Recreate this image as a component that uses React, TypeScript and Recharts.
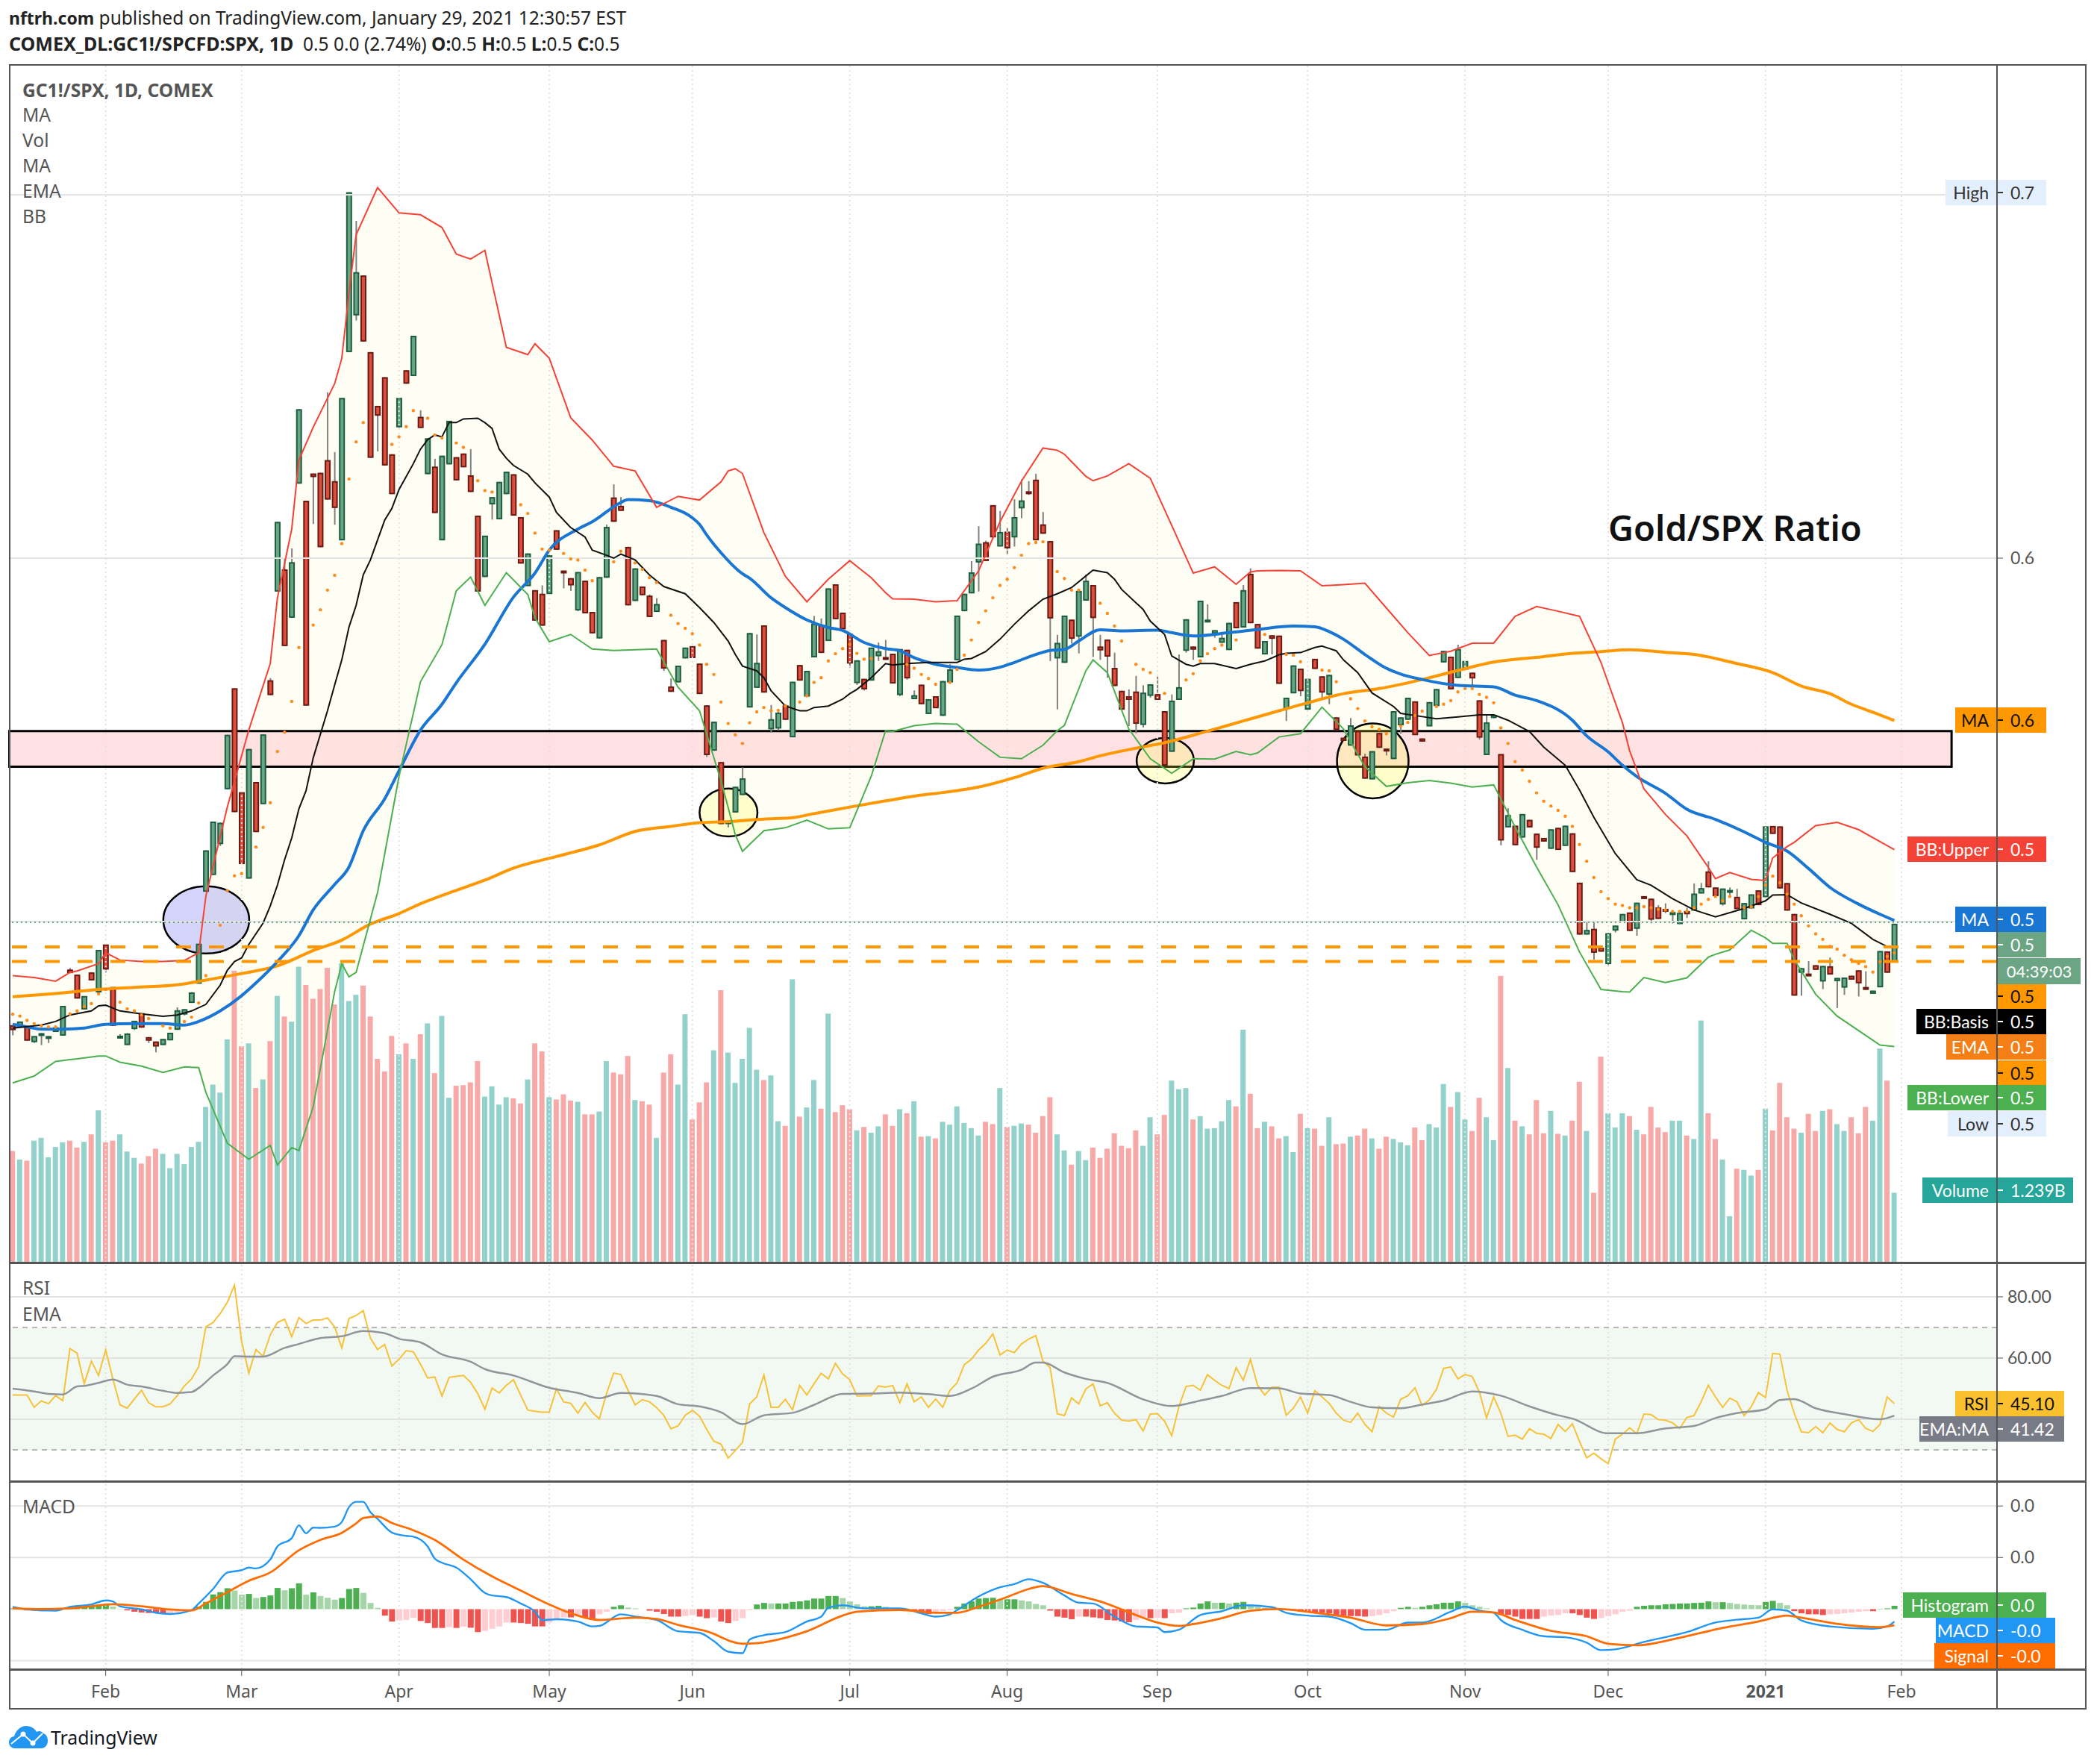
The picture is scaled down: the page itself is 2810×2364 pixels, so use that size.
import React from 'react';
import { ComposedChart, Bar, Line, Area, XAxis, YAxis, ReferenceLine, ReferenceArea } from 'recharts';

// ---- price series, in thousandths of the ratio ----
const candleOpen = [
471.3,471,471,467,468.9,468.1,469.8,468.8,486.6,485.2,
476,485.8,480.7,493.5,481.8,468,466.2,470.6,474.6,468,
466.8,466.2,467.5,470.4,474.6,477.8,483.1,508.4,513,521.5,
536.6,564,535.4,512,538.2,532.5,566.2,591,596.7,583.8,
620.7,615.6,623.1,623.3,626.8,621,605.1,656.9,667,677.6,
656.5,641.7,649.6,628.4,636.2,651.5,650.3,638.7,623.3,625,
605.1,626,627.6,628.6,622.6,611.5,595,615,610.9,617.8,
622.9,611.1,592.5,591,590,590.3,607.5,596.4,594.3,585.8,
593.6,585,578.1,594.8,616.5,614.2,602.9,588.4,592,589.5,
585.4,577.3,564.5,566,572.6,575.6,570.8,559.3,547.2,543.7,
527,530.2,535,559.1,564.5,581.3,553.1,553.3,559.3,550.9,
570.4,562.1,572.9,581.5,577.4,592.6,584.8,579,565.8,566.6,
566.5,573.2,572.6,573.5,562.5,574.6,561.4,565,557.3,561.8,
556.8,566,572.1,585.6,590.5,599,604.2,614.4,603.4,607.1,
605.9,613.9,618.2,621.4,609.1,604.5,572.6,571.4,582.9,578.6,
588.5,592.4,575.5,577.4,569.6,563.3,561.8,563.1,554.3,562.3,
562.4,557.7,546.9,561.2,574.7,575.5,572.9,582.6,579.4,576.9,
574.9,587.7,581.1,595.5,581.7,573.7,578.6,578.5,558.7,563,
569.4,558.5,572.1,567.3,562.6,556,550.4,548.6,552.3,545.2,
539.3,551.7,547.4,544.9,554.2,555.7,560.4,550.2,553.9,559.5,
571.5,572.7,567.2,569.5,568.3,560.7,546,556.2,545.9,526.1,
526.2,523.3,527.8,524,522.8,520.2,525.6,521,524.1,510.5,
496.6,497.8,492.6,488.5,497.7,500,502.3,498.2,506.8,506.1,
503.7,503.3,502.1,499.5,502.7,503.2,507.9,513.6,509.2,504.9,
508.2,506.6,500.8,503.8,508.4,506.9,526.1,526,510.4,501.9,
486.1,485.5,487.8,483.7,487.5,483.8,482,484.9,486.4,481.8,
480.3,482.1,491.6,489.1];
const candleClose = [
470.3,472.3,467.4,468.3,469.1,468.3,470.7,476.6,486,479,
479.3,484,492,487,471.5,468.4,469,472.5,471,467.4,
465.8,467.5,469.2,475.4,475.7,480.3,493.7,519.4,527.3,527,
551.2,530.3,516,547.3,524.8,551.3,562.5,609.8,576,598.7,
640.8,559.6,622.5,603.2,616.3,614,643.9,700.5,678.5,659.8,
627.8,639.4,625.7,617.8,643.9,648.2,661,636,632.8,612.6,
628,637.6,621.6,625.2,618.4,591,606,616.6,620.8,623.6,
611.9,598.7,601.1,583,581.6,600.6,602.5,596,592.7,596,
585,579.5,594.6,608.4,610.2,613.2,587.2,597,590,584,
587.2,569.8,563.4,570.2,575.2,572.7,562.8,546,554.8,527,
527.5,536.9,539.2,579.2,571,563.2,555.5,557.3,555.7,565.8,
566.5,568.8,581.8,574.1,591.5,583.4,580.6,571.2,571.7,564.1,
575.2,574.2,572.2,565.7,574.8,567.1,562.1,560,561,558.9,
566,569.2,584,590,595.9,603.8,599.4,605.9,607,602.9,
611.1,615.7,617.8,605.1,606.9,583.6,576.5,584,578,590.8,
593.6,583.7,574.8,573.1,565,558.5,561.2,554.6,562.8,565.1,
561.2,543.1,560.6,564.3,583,575,588.1,582.9,580,577.9,
582,580.9,591,582.3,575.3,577,578,565.6,561.4,570.3,
563.6,566.6,569.7,563.2,567.7,552.9,549.9,553.8,545.9,539.5,
546.7,548,547,557.7,556,561.4,551.5,549.7,560.2,563.8,
574.3,564.1,574.8,571.5,567.1,550.8,554.6,556.7,522.5,529.1,
521.2,529.4,526.1,520.5,522.2,525.2,519.9,526.2,513.8,496.6,
497.5,491.6,491.9,496.6,498.7,501.9,497.6,505,506.4,500.7,
500.9,502.9,502.4,502.2,502.2,507.5,509,509.6,507.2,508.9,
508.5,503.6,504.9,507.3,504.7,526,524.3,509.3,503.2,479.8,
487,485.2,486.9,487.6,485.6,484.3,484.4,484.2,483.2,481.4,
480.8,491.7,486.1,499.2];
const candleHigh = [
471.5,472.5,471.2,468.5,469.3,468.5,471,476.8,487.2,485.4,
479.5,486,492.2,493.7,482,469,469.3,472.7,474.8,468.2,
467,467.7,469.4,476.4,475.9,480.6,493.9,519.6,527.5,527.2,
551.4,564.2,535.6,547.5,538.4,551.5,567,610,600,602.7,
641,615.8,623.3,623.5,645.6,629.2,644.1,700.7,692.8,677.8,
656.7,641.9,649.8,628.6,644.1,651.7,661.2,640.7,633,627.3,
628.2,637.8,627.8,628.8,630,611.7,606.2,616.8,621,623.8,
623.1,611.3,601.3,591.2,592.5,600.8,607.7,596.6,594.5,596.2,
593.8,585.2,594.8,609.2,620.3,616.8,603.1,597.2,592.2,590,
589,577.5,566.9,570.4,575.4,575.8,571,559.5,555,543.9,
527.7,537.1,542.4,579.4,579,581.5,559.6,558.4,559.8,566,
570.6,569,584.1,583.4,591.7,592.8,585,579.2,571.9,566.8,
575.4,576.8,577.5,573.7,575,574.8,563.6,565.2,561.2,562,
566.2,570.8,584.2,590.2,599.2,608.8,604.8,614.6,613,608.4,
616.2,621.7,621.2,623.2,612.7,604.7,578.9,584.2,583.1,591.4,
595.5,592.6,578.9,577.6,574,563.5,563.9,567.6,565,565.3,
567.4,557.9,562.5,573.5,583.2,575.7,588.3,587.3,580.2,579,
582.2,587.9,592.6,597.2,581.9,577.2,578.8,578.7,561.6,570.5,
569.6,566.8,572.3,567.5,567.9,556.2,550.6,556,552.5,546.2,
546.9,551.9,547.6,557.9,556.2,561.6,560.6,550.4,560.4,564,
574.5,572.9,576.2,571.7,568.5,560.9,556.7,557,546.1,531.2,
526.4,529.6,528,524.2,523,525.4,525.8,526.4,524.3,510.7,
500,500,492.8,496.8,498.9,502.1,502.5,505.2,507,506.3,
504.5,505,502.6,502.4,503.8,510.5,510.6,516.6,509.4,509.1,
509.4,509,505.1,507.5,508.6,526.2,526.3,526.2,510.6,502.1,
487.2,489.1,488,487.8,490.1,484.5,484.6,485.1,486.6,486.3,
481,491.9,491.8,499.4];
const candleLow = [
468.7,470.8,467.2,466.6,466,466.6,469.6,468.6,485.9,478.8,
475.8,483.8,480.5,486,471.3,467.8,466,470.2,470.8,466.6,
464,466,467.3,470.2,474.2,477.6,482.9,508.2,512.8,520.8,
536.4,530.1,515.8,511.8,524.6,532.3,562.3,590.8,575.8,583.6,
620.5,559.4,609.4,603,616.1,609.2,604.9,656.7,665.4,659.6,
627.6,629.4,625.5,617.6,636,648,650.1,635.8,623.1,612.4,
604.9,625.8,621.4,625,618.2,590.8,594.8,610.6,610.7,617.6,
611.7,598.5,592.3,582.8,581.4,590.1,602.3,591.7,591,585.4,
584.8,579.3,577.9,594.6,610,613,587,588.2,589.8,583.8,
585.2,569,563.2,565.8,572.4,572.5,562.6,545.3,547,526.8,
525.9,530,534.8,558.9,564.3,563,552,552.6,555.5,550.7,
566.3,561.9,572.7,573.9,577.2,583.2,580.4,569.9,565.1,563.6,
566.3,571.7,572,565.5,562,566.6,561.2,559.8,557.1,558.7,
556.6,565.6,571.9,585.4,590.3,590.8,599.2,605.7,603.2,601.2,
603.2,611,617.4,604.9,606.7,571.7,558.4,571.2,576.5,573.8,
588.3,572.8,572,567.1,564.8,558.3,553.8,551.8,553.4,561.6,
561,542.9,546.7,561,574,572,572.7,582.4,578.1,576.7,
574.7,580.7,580.9,582.1,575.1,573.5,573.5,565.4,555.2,562.8,
562,558.3,569.5,561.4,559.8,552.7,549.7,548.4,545.7,539.3,
539.1,547.8,545.7,544.7,551.7,555.5,551.3,549.5,553.7,559.3,
571.3,563.9,567,569.3,564.1,550.1,545.8,555.9,521,525.9,
521,523.1,525.9,517,522,520,519.7,520.8,513.6,496.4,
496.4,489.5,491.7,488,497,499.8,497.4,496.1,506.2,499.5,
500.7,502.3,499.5,499.3,501,503,507.7,509.4,507,504.4,
506.9,503.4,500.6,503.6,504.5,506.7,524.1,509.1,503,479.6,
479.6,485,486.7,481.4,485.4,476.2,479.8,484,479.4,481.2,
480.1,481.9,485.9,488.9];

// volume, in billions
const volume = [
1.95,1.8,1.78,2.13,2.18,1.84,2.02,2.1,2.13,2.01,
2.11,2.24,2.66,2.1,2.13,2.24,1.94,1.83,1.73,1.86,
1.99,1.9,1.65,1.9,1.72,2.02,2.11,2.72,3.11,2.97,
3.9,5.1,3.78,3.83,3.05,3.2,3.87,4.66,4.3,4.21,
5.17,4.85,4.61,4.78,5.15,4.51,5.23,4.57,4.68,4.84,
4.3,3.56,3.34,3.96,3.64,3.83,3.56,3.99,4.18,3.31,
4.31,2.88,3.09,3.1,3.15,3.52,2.9,3.08,2.76,2.89,
2.87,2.78,3.2,3.83,3.69,2.89,2.85,2.94,2.83,2.81,
2.59,2.59,2.64,3.52,3.32,3.29,3.61,2.84,2.82,2.76,
2.18,3.32,3.64,3.11,4.34,2.5,2.8,3.15,3.71,4.76,
3.67,3.14,3.56,4.1,3.37,3.19,3.27,2.47,2.39,4.95,
2.55,2.71,3.19,2.69,4.35,2.63,2.75,2.68,2.31,2.37,
2.27,2.38,2.59,2.39,2.68,2.61,2.82,2.2,2.21,2.17,
2.46,2.41,2.73,2.44,2.35,2.22,2.46,2.42,3.05,2.37,
2.39,2.43,2.41,2.27,2.56,2.89,2.24,1.96,1.71,1.95,
1.79,2.01,1.83,1.99,2.26,2.04,2,2.31,2.04,2.54,
2.24,2.58,3.18,3.03,3.05,2.5,2.56,2.34,2.35,2.47,
2.84,2.73,4.07,2.95,2.35,2.46,2.38,2.17,2.21,1.93,
2.6,2.35,2.34,2.04,2.54,2.07,2.08,2.2,2.22,2.34,
2.17,1.99,2.2,2.16,2.1,2.05,2.36,2.14,2.42,2.36,
3.12,2.72,2.98,2.5,2.3,2.88,2.54,2.14,5.01,3.4,
2.48,2.38,2.24,2.84,2.26,2.65,2.25,2.22,2.48,3.16,
2.3,1.22,3.6,2.61,2.36,2.61,2.56,2.32,2.24,2.72,
2.36,2.28,2.48,2.48,2.22,2.16,4.23,2.61,2.16,1.8,
0.81,1.64,1.62,1.52,1.62,2.69,2.31,3.14,2.54,2.34,
2.27,2.6,2.3,2.65,2.68,2.42,2.3,2.54,2.26,2.72,
2.48,3.74,3.18,1.22];

const ma50 = [[0,471.7],[2,471],[4,470.4],[7,470.4],[10,470.7],[13,471.7],[17,471.9],[21,471.9],[24,471.5],[26,472.5],[29,475.4],[32,479.6],[34,483.1],[37,489],[40,496.1],[42,503.2],[45,510.2],[47,515],[49,525],[52,533.8],[54,541.5],[57,552.7],[60,559.8],[62,565.7],[66,576.3],[70,589.3],[73,595.9],[75,602.2],[79,608],[81,610],[85,615.3],[86,616.1],[89,615.8],[92,614],[95,611.1],[96,609.3],[97,606.4],[99,601.5],[102,595.7],[103,594.5],[106,589.1],[108,586.4],[111,583],[114,580.9],[116,580.1],[119,576.8],[122,575.1],[124,574.5],[126,572.6],[129,570.8],[132,569.9],[135,569.2],[138,570],[140,571.3],[143,573.5],[145,574.6],[147,574.9],[149,577.2],[152,580.3],[155,580],[160,580.2],[162,579.5],[165,578.6],[170,579.5],[174,580.4],[179,581.3],[182,581.1],[184,579.8],[186,577.7],[189,573.5],[192,569.7],[194,568.1],[197,566.6],[202,565],[207,564.6],[210,562.3],[213,560.8],[218,555.4],[220,551.1],[223,546.7],[225,543],[227,539.9],[231,535.3],[234,530.9],[238,528.1],[242,524.7],[245,521.8],[248,519.4],[251,514.6],[254,509.4],[258,504.8],[261,502],[263,500.3]];
const ma200 = [[0,479.3],[6,480.2],[12,481.3],[17,481.9],[23,482.6],[27,483.9],[32,485.7],[37,487.8],[42,492],[46,494.9],[50,499.3],[54,502.2],[57,504.9],[61,507.9],[66,511.4],[70,514.7],[76,517.9],[82,521.1],[87,524.8],[92,526.2],[96,527.2],[100,527.5],[105,528.2],[109,528.6],[112,529.7],[117,531.5],[122,533.2],[127,534.8],[130,535.5],[135,537],[140,539.6],[144,542.2],[149,544],[152,545.6],[157,547.7],[161,549.2],[167,552.4],[172,555.2],[177,558],[181,560.2],[186,562.7],[191,564.1],[197,566.6],[202,569.1],[207,571.4],[214,572.9],[218,573.8],[222,574.3],[226,574.8],[231,574.1],[235,573.5],[241,571],[246,568.5],[250,564.8],[254,562.7],[257,559.8],[260,557.6],[263,555.3]];
const bbBasis = [[0,470.7],[4,471.5],[6,472.5],[8,474.3],[11,475.4],[12,476.8],[13,477],[15,475.4],[18,474.6],[21,473.9],[23,474.3],[25,475.4],[27,477.2],[29,482.5],[30,486.6],[31,489],[32,490],[33,493.7],[35,499.6],[36,504.3],[37,510],[38,517],[39,523],[40,531],[41,536],[42,545],[44,558],[45,565.1],[46,572],[47,581],[48,587],[49,595.4],[50,599.5],[52,610.5],[53,613.7],[54,618.9],[56,626],[57,630],[58,632.6],[59,633.9],[60,633.4],[61,637.3],[62,637.3],[63,638.3],[65,638.5],[66,637.3],[67,635.7],[68,630],[69,627.5],[70,625.5],[72,623.1],[73,620.7],[75,616.8],[76,612.6],[78,608.4],[80,605.8],[81,602.2],[83,600.8],[84,600],[85,601.1],[87,599.5],[89,595.4],[91,592.2],[94,590.2],[96,586.4],[98,582.3],[100,577.2],[101,573.5],[102,570.3],[104,569],[105,567.1],[106,563.5],[108,559.3],[110,558],[111,558],[112,558.9],[114,559.3],[116,561.2],[117,562.7],[118,563.9],[120,567.1],[122,571],[123,570.6],[125,571],[128,571.3],[132,571.3],[133,572.2],[134,572.4],[136,574.3],[138,577.7],[140,581.8],[142,585.5],[144,588.7],[146,590.2],[148,591.9],[150,595.1],[151,596.7],[153,596],[154,594.2],[155,591.4],[158,585.9],[159,582.7],[161,579],[162,573.1],[164,570.8],[165,570.3],[166,571],[168,571],[171,569.6],[173,570.8],[175,571.7],[177,573.4],[178,573.8],[180,574],[182,575.4],[183,575.8],[185,574.5],[186,572],[188,568.5],[190,562.9],[193,559.2],[194,557.3],[196,556.7],[199,555.8],[202,556.3],[205,556.9],[207,556.9],[209,555.4],[212,552.3],[214,548],[217,543],[219,536.2],[221,528.7],[224,518.7],[227,511.5],[229,510],[232,506.3],[235,503.2],[238,501.3],[242,503.6],[245,505.7],[246,507.3],[248,507.4],[250,505.1],[254,502],[257,499.5],[260,495.1],[262,493.1],[263,493.1]];

const bandIndex = [0,3,6,8,9,12,13,15,18,21,24,26,27,30,33,36,37,39,40,42,45,46,47,48,51,54,57,60,62,64,66,69,72,73,75,78,81,84,87,90,93,96,99,100,101,102,105,108,111,114,117,120,122,123,126,129,132,135,138,141,144,146,147,150,151,153,156,159,162,165,168,171,173,174,177,180,183,186,189,192,195,198,201,204,207,210,213,216,219,222,225,226,228,231,234,237,238,240,243,245,246,248,249,252,255,258,261,263];
const bbUpper = [485.1,484.6,483.6,486,486.4,488.4,491.4,489.4,489,489,489.3,491.4,507,531.5,552.7,571,589,608,627,636,648,655,673,689,702,695,694.5,691,683.7,682.3,684.7,658,656,659,655,638.6,632.5,625.3,624,614,617,616,621,624,624.6,623.3,607,595,588,594.2,599.3,594.6,590.5,588.8,588.7,588,588.3,596.5,610,621.2,630.3,629.7,628.6,622.5,621.3,622.6,626,622,609,595.9,597.6,592.8,596.2,596.5,596.6,596.5,592.4,592.7,593.1,586.3,579.5,573.2,574.4,576.6,576.6,584,586.7,585.4,584,571.3,554.7,547,536.5,529.5,523.6,514.9,511.8,513.5,511.6,511.3,517.5,520.6,521.8,526.4,527.3,525.3,522,519.8];
const bbLower = [455.6,457.5,461.5,462,462.2,463,463,461.3,460.2,458.5,460,459.8,453,439,434.6,438.4,433,437.8,437,449,480.7,488.4,484.8,486,508,540,566,576.2,591,594.8,587,596,590,583.6,577,579,575,574.6,574.8,575,564.5,558,538.7,531.4,523.9,519.3,525,525.8,527.9,525.5,525.8,540,552.5,552.3,553.9,554.5,554.3,549.5,545.2,544.8,548.5,552.5,554,569,572,568.5,553,544.8,540.8,544.8,544.7,546.8,545.9,546.4,550.8,551.7,559,553,542.6,537.2,538.2,538.8,538.1,537,537.6,526,515,504.6,491.6,481.3,480.7,480.6,484.6,483.2,484.5,490.2,491,492.2,497.6,495.5,494,494,489.5,480,474,470,466,465.6];

const emaDots = [[0,474.5],[1,474],[2,472.8],[3,471.9],[4,471.3],[5,471],[6,471],[8,474.6],[9,475.4],[10,476.6],[11,477.4],[12,480.1],[13,481.3],[15,477.8],[16,476],[17,475.4],[18,474.3],[19,473.3],[21,471.3],[22,470.7],[24,472.5],[25,473.7],[26,477.6],[27,485.1],[29,499],[30,508.5],[31,512.6],[32,513.2],[34,520.5],[35,525.9],[36,532.7],[37,546.8],[38,552.1],[39,560.6],[40,575.4],[42,581.6],[43,585.8],[44,591.2],[45,595.3],[46,604],[47,621.8],[48,632],[49,637.3],[53,631.3],[54,633.4],[55,636.2],[56,640.6],[58,638.5],[59,633.9],[60,633.1],[62,631.7],[63,630.5],[65,621.3],[66,618.6],[67,618.2],[71,614.7],[72,612.3],[73,606.9],[74,602.5],[75,602.2],[77,601.3],[78,599.8],[79,599.5],[80,596.7],[81,593.8],[84,599],[85,601.9],[87,598.7],[88,596.9],[89,594.6],[90,593.3],[92,584.3],[93,582],[94,580.7],[95,579.2],[96,576.1],[97,570.8],[98,568],[99,560.4],[100,554.5],[101,551.4],[102,549],[103,554.7],[104,557.7],[105,558.9],[106,558],[107,558.1],[108,559.3],[110,560.4],[111,562.1],[112,565.8],[113,567.1],[114,571.7],[115,573.7],[116,575.1],[117,576.3],[118,573.8],[119,572.2],[120,572.4],[125,570.8],[126,569.7],[127,568],[128,566.9],[129,565.3],[131,565.8],[132,569.4],[133,573.3],[134,577.5],[135,582.3],[136,585.5],[137,589.1],[138,592.5],[139,594.2],[140,597.4],[141,600.8],[142,604],[143,604.3],[144,604.5],[146,596.3],[147,594.4],[148,591.2],[149,591.2],[152,587.6],[153,584.8],[154,581.3],[155,577.2],[157,570.8],[158,569.4],[159,568.5],[161,562.8],[164,566.5],[165,568.2],[166,571.7],[167,573.7],[168,575.1],[169,576.1],[171,577.5],[175,579],[178,573.5],[179,573.3],[180,571.5],[183,569.2],[184,569],[185,566],[187,561.3],[188,558.6],[189,555.2],[190,553.6],[191,552.9],[192,551.7],[194,553.8],[195,554.8],[196,556.7],[197,557.9],[199,559.2],[200,559.8],[201,560.8],[202,563.2],[203,564.1],[204,564.1],[205,562.5],[206,561.7],[207,560.2],[208,553.3],[209,549],[210,544],[211,541.7],[212,538.6],[213,535.4],[214,533.1],[215,531.8],[216,530.6],[217,529],[218,526.2],[219,521.2],[220,516.6],[221,512.1],[222,508.2],[223,506.3],[224,504.8],[225,504.4],[226,503.8],[227,503.8],[228,504.1],[229,503.8],[230,503.4],[231,503.2],[232,502.8],[233,502.8],[234,502.8],[235,503.8],[236,504.8],[237,506.1],[238,506.9],[239,505.7],[240,506.9],[242,503.8],[243,504.1],[244,506.9],[245,510],[246,512.5],[247,510.7],[248,507.5],[249,504.8],[250,501.6],[251,498.8],[252,496.6],[253,495.1],[254,493.2],[255,492.4],[256,490.7],[257,489.5],[258,488.5],[259,487.6],[260,486.1],[261,488.9],[262,490.4],[263,491.4]];

// RSI pane
const rsi = [
47.9,47.9,47.9,43.9,46,45.1,47.7,46.1,63.1,61.6,
51.6,59,54.3,62.7,53.2,44.7,43.6,46.6,49.5,45.4,
44.1,44.1,45,47.7,50.9,53.2,57.2,70.2,71.6,74.5,
78.2,83.8,65.4,55.1,62.8,60.6,67.6,71.6,72.7,67,
73.2,71.3,72.4,72.4,73.1,70.2,63.3,72.9,73.9,75.5,
66.5,62.8,64.4,57.4,59.6,62.4,62,58,53.5,53.8,
47.6,53.7,54,54.3,52.1,48.4,43.3,50.2,48.6,51.1,
52.9,47.9,43,42.6,42.3,42.3,50,45.7,45.2,42,
45.5,42.3,40.1,48.4,55.1,54.6,49.5,44.7,46.4,45.7,
43.8,41.3,36.9,37.8,41.3,42.9,41,36.7,32.8,31.9,
27.3,29.8,32.4,45,47.3,54.5,43.9,43.9,46.5,43.1,
51.1,47.9,51.6,55,53.2,58.3,54.8,52.9,47.6,47.7,
47.7,50.9,50.5,51,45.4,51.6,45.7,47.3,43.9,46.6,
43.9,49.5,51.9,57.8,59.6,62.6,64.8,67.9,61,62.6,
61.8,64.6,66.2,67.3,59,56.9,41.8,41.2,47,45,
49.9,51.6,44.4,45.4,42,39.7,39.4,39.9,36.2,41.7,
41.8,39.4,34.6,44.1,50.7,51.1,49.5,54.6,52.7,51.1,
50,56.9,52.7,59.6,51.1,47.9,50.5,50.5,41.3,43.6,
47.3,42,49.3,47.3,45.2,42,39.7,39,42,38.3,
35.9,44.1,42,40.7,46.5,47.7,50.3,44.5,46.3,49.8,
56.6,57.1,53.2,54.6,54,48.9,40.4,47.3,42,34.4,
34.8,33.5,36.9,35.4,35.1,33.7,38.3,36,38.5,32.7,
27.4,28.9,27.1,25.5,33.5,35.1,37.2,35.3,41.7,41.5,
39.9,39.7,38.8,37,40.6,41.2,45.7,51.1,47.3,43.9,
46.9,45.7,41.2,44.1,48.7,47.1,61.5,61.3,49.5,42,
35.9,35.6,37.6,35.6,38.8,36.7,35.9,38.8,39.9,37,
36,38.3,47.3,45.1];
const rsiEma = [[0,50],[3,49.1],[5,48.3],[7,48.1],[9,50.7],[10,50.9],[12,51.9],[14,53],[16,51.3],[18,50.7],[21,49.3],[23,48.6],[25,48.9],[26,50.2],[28,54.3],[30,58],[31,60.6],[33,60.5],[35,60.5],[38,63.3],[40,64.6],[43,66.5],[46,67.1],[49,68.8],[52,68.1],[54,66.3],[57,65.1],[60,61.2],[64,58.8],[66,56.4],[70,54.3],[75,50.3],[79,48.6],[82,46.9],[85,48.6],[90,47.6],[93,44.9],[96,44.2],[99,42.3],[102,38.4],[105,41.3],[109,42.1],[112,44.7],[116,48.3],[120,48.4],[124,48.7],[128,48.2],[131,47.6],[134,50],[137,53.9],[141,56.2],[143,58.5],[144,58.5],[147,55.3],[150,53.2],[153,51.9],[158,46.5],[162,44.3],[166,46.1],[169,47.6],[173,50.2],[177,50.1],[180,48.4],[184,47.9],[187,45.7],[190,43.9],[194,43.6],[197,44.8],[200,46.1],[204,49.1],[208,47.7],[212,44.2],[216,41.3],[218,40.2],[223,35.4],[227,35.4],[231,37],[235,37.8],[238,40.4],[241,42],[245,43.3],[247,46.3],[249,46.6],[252,43.6],[256,41.7],[261,40],[263,41.2]];

// MACD pane, in thousandths
const macdLine = [[0,0.9],[2,-0.1],[6,-0.6],[8,0.9],[11,1.8],[13,3.4],[14,3],[15,1.1],[18,-0.1],[20,-1.4],[22,-1.9],[25,-0.4],[26,2.2],[28,7.8],[30,14.2],[32,15.1],[33,16.1],[34,15.8],[36,19.2],[37,24.3],[39,27.5],[40,32.5],[41,29.4],[42,31.6],[43,31.5],[45,32],[46,33.8],[47,39.5],[48,41.6],[49,41.6],[50,37.6],[51,35],[53,29.7],[55,28.4],[56,28.1],[58,24.3],[59,19.6],[60,18],[62,16.1],[64,11.6],[66,6.3],[67,5.3],[69,4.7],[71,2.2],[73,-1],[74,-4.2],[76,-3.9],[79,-4.8],[81,-6.7],[82,-6.5],[85,-2],[87,-2.9],[90,-4.2],[93,-8.6],[96,-9.2],[98,-12.4],[100,-16.5],[102,-17.1],[103,-11.8],[105,-10.1],[108,-8.9],[111,-4.8],[113,-2.9],[114,0.5],[116,1.5],[119,0.3],[124,0.3],[127,-1.6],[129,-2.9],[131,-2],[132,-0.4],[135,4.9],[138,8.5],[140,9.7],[142,11.6],[144,10.2],[147,5.3],[149,2.5],[151,2.2],[154,-2.9],[157,-6.7],[160,-7.1],[161,-8.9],[163,-8],[166,-2.3],[169,-0.8],[172,1.5],[176,0.8],[178,-1.4],[181,-2.5],[184,-2.9],[187,-5.4],[189,-8],[192,-8],[195,-5.2],[197,-5.2],[201,-1],[203,1],[205,-0.6],[207,-1.4],[208,-4.2],[211,-8],[214,-10.5],[217,-10.9],[220,-13],[222,-15.9],[224,-15.6],[228,-12.7],[234,-8.9],[238,-5.2],[241,-4.1],[244,-3.3],[246,-0.1],[248,-0.6],[250,-4.4],[254,-6.7],[260,-7.6],[262,-6.7],[263,-4.8]];
const macdSignal = [[0,0.3],[4,0],[8,0.3],[10,0.8],[14,1.9],[18,1.1],[22,-0.1],[25,-0.5],[27,2.2],[30,6.6],[33,11],[36,14.2],[40,22.8],[43,26.8],[46,29.6],[48,33.2],[49,35.3],[51,35.9],[53,33.4],[56,30.6],[59,26.8],[63,19.2],[67,12.7],[71,7.2],[75,1.8],[78,-1.6],[82,-4.2],[87,-3.3],[90,-3.8],[93,-6.1],[97,-8.6],[102,-13.4],[104,-13.2],[108,-11.1],[111,-8.6],[116,-2.5],[118,-1],[124,-0.3],[129,-1.4],[132,-1.4],[135,0.9],[139,4.7],[142,7.8],[144,8.9],[148,5.9],[152,3],[157,-2.3],[160,-5.2],[163,-6.5],[165,-5.8],[169,-3.5],[173,-0.6],[177,0],[182,-1.4],[187,-3.3],[192,-6.3],[197,-5.8],[201,-3.5],[204,-1],[207,-1.3],[210,-4.2],[215,-8.4],[220,-10.5],[223,-13.4],[227,-14],[233,-11.1],[239,-7.3],[244,-4.8],[248,-2.5],[250,-3.3],[255,-5.7],[261,-7],[263,-6.3]];
const macdHist = [
0.3,-0.1,-0.5,-0.6,-0.8,-0.5,-0.4,-0.1,0.8,1,
1.1,1.3,1.5,1.8,1,0.1,-0.5,-1,-1.3,-1.5,
-1.5,-1.8,-1.5,-1.3,-1,-0.5,1,2.8,5.7,6.6,
8.1,7.2,5.6,5.9,4.3,4.7,5.3,8.2,7.3,8.1,
10,5.6,6.5,5.1,4.4,3.7,4.3,7.8,8.2,6.3,
2.4,0.5,-2.5,-4.8,-4.4,-4.2,-3.3,-4.6,-5.4,-7.3,
-7.3,-7,-7.3,-6.8,-7.2,-8.9,-8.4,-7.6,-6.7,-5.2,
-5.2,-5.4,-5.7,-6.7,-6.7,-5.2,-3.9,-3.2,-3.2,-2.3,
-3.3,-3.8,-2,-1,0.9,1.5,0.6,0.3,0,-0.6,
-1,-1.9,-2.9,-2.9,-2.7,-2.3,-2.9,-3.5,-3.2,-4.8,
-5.4,-4.6,-3.5,-0.4,1.8,2.4,2.2,2.2,2.2,2.8,
3,3.4,4.1,4.1,5.1,5.1,4.3,3,1.9,1.1,
1.1,1.3,0.9,0.3,-0.3,-0.6,-1,-1.6,-1.9,-1.6,
-0.8,-0.4,0.9,2.2,3,4.1,4.3,4.4,3.8,3.8,
3.8,3.4,3,2,1.5,-0.6,-2.9,-3.3,-3.9,-2.9,
-2.9,-3.2,-3.5,-4.2,-4.4,-4.8,-5.1,-4.2,-3.2,-3.5,
-3.3,-3.5,-1.6,-1.4,0.3,0.6,2.2,3,2.5,2.5,
2.2,2.5,2.8,1.8,0.9,0.5,0.3,0,-0.4,-0.6,
-1,-1.3,-1.4,-1.4,-1.6,-2.3,-2.5,-2.7,-2.7,-2.9,
-2.7,-2.3,-1.6,-0.8,0.5,0.9,0.5,0.9,1.5,1.9,
2.5,2.5,3,2.5,1.5,0.9,0.3,0,-2.3,-2.3,
-2.9,-3.8,-3.8,-3.8,-2.9,-2.5,-2.3,-1.6,-1.6,-2.3,
-3.3,-3.8,-3.5,-2.7,-2,-1,-0.6,0.9,1.3,1.5,
1.5,1.9,2,2.2,2.2,2.4,2.5,3,2.7,2.7,
2.4,2,1.8,1.6,1.5,2.8,3.2,2.4,1.5,-0.8,
-1.6,-2,-2,-2.3,-2,-1.9,-1.6,-1.3,-1,-0.8,
-0.8,0.1,0.3,1.3];

// axes and text
const monthTicks = [13,32,54,75,95,117,139,160,181,203,223,245,264];
const monthLabels = ['Feb','Mar','Apr','May','Jun','Jul','Aug','Sep','Oct','Nov','Dec','2021','Feb'];
const legendMain = ['MA','Vol','MA','EMA','BB'];
const priceGrid = [500,600,700];
const priceLabels = [600];
const rsiGrid = [40,60,80];
const rsiLabels = [60,80];
const guideLevels = [493,489];
const lastPriceLevel = 499.8;
const zoneRange = { x1: -0.47, x2: 271, y1: 542.6, y2: 552.4 };
const blueMark = { x1: 21.05, x2: 33.06, y1: 491.2, y2: 509.7 };
const yellowMarks = [
  { x1: 96, x2: 104.1, y1: 523.4, y2: 536.6 },
  { x1: 157.1, x2: 165.1, y1: 538, y2: 550.5 },
  { x1: 185.1, x2: 195.1, y1: 533.9, y2: 554.5 },
];

const FONT = '"Noto Sans", sans-serif';
const TAG_FONT = 'Lato, sans-serif';
const X_DOMAIN: [number, number] = [-0.47, 277.35];
const PLOT_LEFT = 12.5;
const AXIS_X = 2676;
const W = 2810;
const RIGHT_MARGIN = 14;
const AXIS_W = W - AXIS_X - RIGHT_MARGIN;

const rows = candleOpen.map((o, i) => ({
  i, o, c: candleClose[i], h: candleHigh[i], l: candleLow[i],
  vol: volume[i], rsi: rsi[i], hist: macdHist[i], prevHist: i > 0 ? macdHist[i - 1] : 0,
}));
const pts = (list: number[][]) => list.map(([i, v]) => ({ i, v }));
const bandRows = bandIndex.map((i, k) => ({ i, band: [bbLower[k], bbUpper[k]] }));

const Candle = (p: any) => {
  const { x, width, y, height, payload } = p;
  const { o, c, h, l } = payload;
  const k = height / (h - l);
  const yOf = (v: number) => y + (h - v) * k;
  const up = c >= o;
  const cx = x + width / 2;
  const top = yOf(Math.max(o, c));
  const bot = yOf(Math.min(o, c));
  return (
    <g>
      <line x1={cx} x2={cx} y1={y} y2={y + height} stroke="#808080" strokeWidth={2} />
      <rect x={x} y={top} width={width} height={Math.max(bot - top, 2)}
        fill={up ? '#68a583' : '#dc4f3d'} stroke={up ? '#1d5e42' : '#6b1a13'} strokeWidth={2} />
    </g>
  );
};
const VolBar = (p: any) => {
  const { x, y, width, height, payload } = p;
  return <rect x={x} y={y} width={width} height={height} fill={payload.c >= payload.o ? '#93d2cb' : '#f7a9a7'} />;
};
const HistBar = (p: any) => {
  const { x, y, width, height, payload } = p;
  const { hist, prevHist } = payload;
  const fill = hist >= 0 ? (hist >= prevHist ? '#4caf50' : '#a5d6a7') : (hist <= prevHist ? '#ef5350' : '#ffcdd2');
  return <rect x={x} y={Math.min(y, y + height)} width={width} height={Math.abs(height)} fill={fill} />;
};
const EllipseMark = (fill: string) => (p: any) => (
  <ellipse cx={p.x + p.width / 2} cy={p.y + p.height / 2} rx={p.width / 2} ry={p.height / 2}
    fill={fill} stroke="#000" strokeWidth={2.5} />
);
const MonthTick = (p: any) => {
  const idx = monthTicks.indexOf(p.payload.value);
  const label = monthLabels[idx];
  return (
    <text x={p.x} y={p.y + 27} textAnchor="middle" fontFamily={FONT} fontSize={23}
      fontWeight={label === '2021' ? 700 : 400} fill="#555">{label}</text>
  );
};
const gridV = monthTicks.map((t) => (
  <ReferenceLine key={'v' + t} xAxisId="x" yAxisId="y" x={t} stroke="#e2e2e2" strokeWidth={2} strokeDasharray="2 4" />
));
const tickStyle = { fontFamily: TAG_FONT, fontSize: 23, fill: '#555' };

const Tag = ({ label, value, bg, fg, left, cy, right }: any) => (
  <>
    {label ? (
      <div style={{ position: 'absolute', left, top: cy - 17, width: AXIS_X - 1 - left, height: 34, background: bg, color: fg,
        fontFamily: TAG_FONT, fontSize: 23, lineHeight: '34px', textAlign: 'right', paddingRight: 10, boxSizing: 'border-box' }}>{label}</div>
    ) : null}
    <div style={{ position: 'absolute', left: AXIS_X + 1, top: cy - 17, width: right - AXIS_X - 1, height: 34, background: bg, color: fg,
      fontFamily: TAG_FONT, fontSize: 23, lineHeight: '34px', paddingLeft: 17, boxSizing: 'border-box', whiteSpace: 'nowrap' }}>
      <span style={{ position: 'absolute', left: 0, top: 16, width: 7, height: 2, background: fg }} />
      {value}
    </div>
  </>
);
const tags = [
  { label: 'High', value: '0.7', bg: '#e3effd', fg: '#333', left: 2607, cy: 258, right: 2742 },
  { label: 'MA', value: '0.6', bg: '#ff9800', fg: '#111', left: 2620, cy: 965, right: 2742 },
  { label: 'BB:Upper', value: '0.5', bg: '#f44336', fg: '#fff', left: 2556, cy: 1138, right: 2742 },
  { label: 'MA', value: '0.5', bg: '#1976d2', fg: '#fff', left: 2620, cy: 1232, right: 2742 },
  { label: '', value: '0.5', bg: '#6ba583', fg: '#fff', left: 0, cy: 1266, right: 2742 },
  { label: '', value: '0.5', bg: '#ff9800', fg: '#111', left: 0, cy: 1335, right: 2742 },
  { label: 'BB:Basis', value: '0.5', bg: '#000', fg: '#fff', left: 2568, cy: 1369, right: 2742 },
  { label: 'EMA', value: '0.5', bg: '#f57f17', fg: '#fff', left: 2608, cy: 1403, right: 2742 },
  { label: '', value: '0.5', bg: '#ff9800', fg: '#111', left: 0, cy: 1438, right: 2742 },
  { label: 'BB:Lower', value: '0.5', bg: '#4caf50', fg: '#fff', left: 2556, cy: 1471, right: 2742 },
  { label: 'Low', value: '0.5', bg: '#e3effd', fg: '#333', left: 2610, cy: 1506, right: 2742 },
  { label: 'Volume', value: '1.239B', bg: '#26a69a', fg: '#fff', left: 2576, cy: 1595, right: 2778 },
  { label: 'RSI', value: '45.10', bg: '#fbc02d', fg: '#111', left: 2620, cy: 1881, right: 2766 },
  { label: 'EMA:MA', value: '41.42', bg: '#787b86', fg: '#fff', left: 2572, cy: 1915, right: 2766 },
  { label: 'Histogram', value: '0.0', bg: '#4caf50', fg: '#fff', left: 2550, cy: 2151, right: 2742 },
  { label: 'MACD', value: '-0.0', bg: '#2196f3', fg: '#fff', left: 2594, cy: 2185, right: 2754 },
  { label: 'Signal', value: '-0.0', bg: '#ff6d00', fg: '#fff', left: 2592, cy: 2219, right: 2754 },
];
const hLine = (top: number) => (
  <div style={{ position: 'absolute', left: 12, top: top - 1, width: 2784, height: 3, background: '#555' }} />
);
const text = (t: string, left: number, cy: number, size: number, color: string, weight = 400) => (
  <div style={{ position: 'absolute', left, top: cy - 30, height: 60, lineHeight: '60px', fontFamily: FONT, fontSize: size,
    color, fontWeight: weight, whiteSpace: 'nowrap' }}>{t}</div>
);

export default function App() {
  return (
    <div style={{ position: 'absolute', left: 0, top: 0, width: W, height: 2364, background: '#fff', overflow: 'hidden' }}>
      <div style={{ position: 'absolute', left: 0, top: 0 }}>
        <ComposedChart width={W} height={1692} data={rows} margin={{ top: 87, right: RIGHT_MARGIN, bottom: 0, left: PLOT_LEFT }}>
          <XAxis xAxisId="x" type="number" dataKey="i" domain={X_DOMAIN} allowDataOverflow hide />
          <XAxis xAxisId="xv" type="number" dataKey="i" domain={X_DOMAIN} allowDataOverflow hide />
          <YAxis yAxisId="y" orientation="right" width={AXIS_W} domain={[406.16, 735.73]} allowDataOverflow ticks={priceLabels}
            tickFormatter={(v: number) => (v / 1000).toFixed(1)} tick={tickStyle} stroke="#555" tickSize={8} tickMargin={10} interval={0} />
          <YAxis yAxisId="vol" hide domain={[0, 20.93]} allowDataOverflow />
          {gridV}
          {priceGrid.map((v) => <ReferenceLine key={v} xAxisId="x" yAxisId="y" y={v} stroke="#e4e4e4" strokeWidth={2} />)}
          <Area xAxisId="x" yAxisId="y" data={bandRows} dataKey="band" stroke="none" fill="#fffde7" fillOpacity={0.45} isAnimationActive={false} />
          <Bar xAxisId="xv" yAxisId="vol" dataKey="vol" barSize={7} shape={VolBar} isAnimationActive={false} />
          <Line xAxisId="x" yAxisId="y" data={pts(ma200)} dataKey="v" stroke="#ff9800" strokeWidth={4} dot={false} type="monotone" isAnimationActive={false} />
          <Line xAxisId="x" yAxisId="y" data={pts(ma50)} dataKey="v" stroke="#1976d2" strokeWidth={4} dot={false} type="monotone" isAnimationActive={false} />
          <Line xAxisId="x" yAxisId="y" data={pts(bbBasis)} dataKey="v" stroke="#111" strokeWidth={2} dot={false} isAnimationActive={false} />
          <Line xAxisId="x" yAxisId="y" data={bandRows.map((r) => ({ i: r.i, v: r.band[1] }))} dataKey="v" stroke="#f44336" strokeWidth={2} dot={false} isAnimationActive={false} />
          <Line xAxisId="x" yAxisId="y" data={bandRows.map((r) => ({ i: r.i, v: r.band[0] }))} dataKey="v" stroke="#4caf50" strokeWidth={2} dot={false} isAnimationActive={false} />
          <Line xAxisId="x" yAxisId="y" data={pts(emaDots)} dataKey="v" stroke="none" dot={{ r: 2.2, fill: '#ff8c1a', stroke: 'none' }} isAnimationActive={false} />
          <Bar xAxisId="x" yAxisId="y" dataKey={(r: any) => [r.l, r.h]} barSize={6} shape={Candle} isAnimationActive={false} />
          <ReferenceLine xAxisId="x" yAxisId="y" y={lastPriceLevel} stroke="#6ba583" strokeWidth={2} strokeDasharray="2 4" />
          {guideLevels.map((v) => <ReferenceLine key={v} xAxisId="x" yAxisId="y" y={v} stroke="#ff9800" strokeWidth={4} strokeDasharray="20 24" />)}
          <ReferenceArea xAxisId="x" yAxisId="y" {...zoneRange} fill="#ffcdd2" fillOpacity={0.6} stroke="#000" strokeWidth={3} />
          <ReferenceArea xAxisId="x" yAxisId="y" {...blueMark} shape={EllipseMark('rgba(40,40,230,0.2)')} />
          {yellowMarks.map((m, k) => <ReferenceArea key={k} xAxisId="x" yAxisId="y" {...m} shape={EllipseMark('rgba(255,255,60,0.22)')} />)}
        </ComposedChart>
      </div>

      <div style={{ position: 'absolute', left: 0, top: 1692 }}>
        <ComposedChart width={W} height={293} data={rows} margin={{ top: 0, right: RIGHT_MARGIN, bottom: 0, left: PLOT_LEFT }}>
          <XAxis xAxisId="x" type="number" dataKey="i" domain={X_DOMAIN} allowDataOverflow hide />
          <YAxis yAxisId="y" orientation="right" width={AXIS_W} domain={[19.76, 91.2]} allowDataOverflow ticks={rsiLabels}
            tickFormatter={(v: number) => v.toFixed(2)} tick={tickStyle} stroke="#555" tickSize={8} tickMargin={6} interval={0} />
          {gridV}
          <ReferenceArea xAxisId="x" yAxisId="y" y1={30} y2={70} fill="#4caf50" fillOpacity={0.07} stroke="none" />
          {rsiGrid.map((v) => <ReferenceLine key={v} xAxisId="x" yAxisId="y" y={v} stroke="#e2e4e2" strokeWidth={2} />)}
          {[30, 70].map((v) => <ReferenceLine key={v} xAxisId="x" yAxisId="y" y={v} stroke="#b4b6b8" strokeWidth={2} strokeDasharray="7 6" />)}
          <Line xAxisId="x" yAxisId="y" dataKey="rsi" stroke="#f7c23a" strokeWidth={2} dot={false} isAnimationActive={false} />
          <Line xAxisId="x" yAxisId="y" data={pts(rsiEma)} dataKey="v" stroke="#90959a" strokeWidth={2.5} dot={false} type="monotone" isAnimationActive={false} />
        </ComposedChart>
      </div>

      <div style={{ position: 'absolute', left: 0, top: 1985 }}>
        <ComposedChart width={W} height={306} data={rows} margin={{ top: 0, right: RIGHT_MARGIN, bottom: 0, left: PLOT_LEFT }}>
          <XAxis xAxisId="x" type="number" dataKey="i" domain={X_DOMAIN} allowDataOverflow ticks={monthTicks} interval={0}
            height={54} tick={MonthTick} stroke="#555" tickSize={9} />
          <YAxis yAxisId="y" orientation="right" width={AXIS_W} domain={[-23.3, 49.6]} allowDataOverflow ticks={[20, 40]}
            tickFormatter={() => '0.0'} tick={tickStyle} stroke="#555" tickSize={8} tickMargin={10} interval={0} />
          {gridV}
          {[40, 20, -20].map((v) => <ReferenceLine key={v} xAxisId="x" yAxisId="y" y={v} stroke="#e4e4e4" strokeWidth={2} />)}
          <Bar xAxisId="x" yAxisId="y" dataKey="hist" barSize={8} shape={HistBar} isAnimationActive={false} />
          <Line xAxisId="x" yAxisId="y" data={pts(macdLine)} dataKey="v" stroke="#2196f3" strokeWidth={2.4} dot={false} type="monotone" isAnimationActive={false} />
          <Line xAxisId="x" yAxisId="y" data={pts(macdSignal)} dataKey="v" stroke="#ff6d00" strokeWidth={2.8} dot={false} type="monotone" isAnimationActive={false} />
        </ComposedChart>
      </div>

      {/* frame */}
      <div style={{ position: 'absolute', left: 12, top: 86, width: 2784, height: 2205, border: '2px solid #555', boxSizing: 'border-box' }} />
      {hLine(1692)}{hLine(1985)}{hLine(2237)}
      <div style={{ position: 'absolute', left: AXIS_X - 1, top: 86, width: 2, height: 2205, background: '#555' }} />

      {/* header */}
      <div style={{ position: 'absolute', left: 12, top: 6, height: 36, lineHeight: '36px', fontFamily: FONT, fontSize: 24.5, color: '#222', whiteSpace: 'nowrap' }}>
        <b style={{ fontSize: 23 }}>nftrh.com</b> published on TradingView.com, January 29, 2021 12:30:57 EST
      </div>
      <div style={{ position: 'absolute', left: 12, top: 40, height: 36, lineHeight: '36px', fontFamily: FONT, fontSize: 24.5, color: '#222', whiteSpace: 'nowrap' }}>
        <b style={{ fontSize: 25 }}>COMEX_DL:GC1!/SPCFD:SPX, 1D</b>&nbsp; 0.5 0.0 (2.74%) <b>O:</b>0.5 <b>H:</b>0.5 <b>L:</b>0.5 <b>C:</b>0.5
      </div>

      {/* pane legends */}
      {text('GC1!/SPX, 1D, COMEX', 30, 121, 24.6, '#555', 700)}
      {legendMain.map((t, k) => <React.Fragment key={k}>{text(t, 30, 154 + k * 34, 24.6, '#555')}</React.Fragment>)}
      {text('RSI', 30, 1726, 24.6, '#555')}
      {text('EMA', 30, 1761, 24.6, '#555')}
      {text('MACD', 30, 2019, 24.6, '#555')}
      {text('Gold/SPX Ratio', 2155, 707, 47, '#111', 600)}

      {tags.map((t, k) => <Tag key={k} {...t} />)}
      <div style={{ position: 'absolute', left: AXIS_X + 1, top: 1284, width: 111, height: 35, background: '#6ba583', color: '#fff',
        fontFamily: TAG_FONT, fontSize: 22, lineHeight: '35px', textAlign: 'center' }}>04:39:03</div>

      {/* footer */}
      <svg style={{ position: 'absolute', left: 12, top: 2313 }} width={54} height={32} viewBox="0 0 54 32">
        <path d="M8 30 C3 30 0 26 0 22 C0 18 3 14 7 14 C9 6 16 0 23 0 C30 0 35 4 37 8 C40 6 44 7 46 10 C50 11 52 15 52 20 C52 26 48 30 43 30 Z" fill="#2196f3" />
        <path d="M3 24 L19 11 L32 23 L45 10" fill="none" stroke="#fff" strokeWidth={2} />
        <circle cx={19} cy={11} r={3.5} fill="#fff" />
        <circle cx={32} cy={23} r={3.5} fill="#fff" />
      </svg>
      {text('TradingView', 68, 2328, 24.8, '#131722')}
    </div>
  );
}
